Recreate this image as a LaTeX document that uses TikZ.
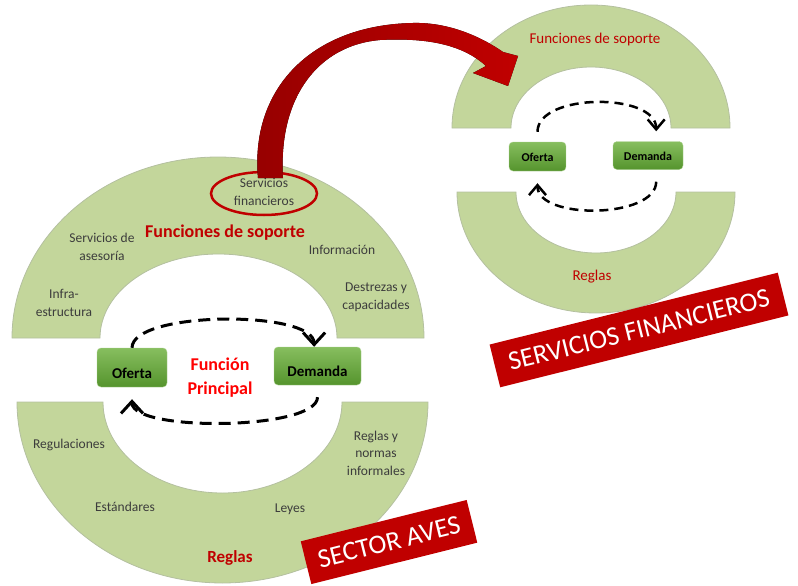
\documentclass[tikz,border=0pt]{standalone}
\usepackage{fontspec}
\setmainfont{Carlito}
\usetikzlibrary{arrows.meta, shapes.geometric}

\definecolor{verdearco}{RGB}{195,214,155}
\definecolor{bordearco}{RGB}{180,192,160}
\definecolor{rojo}{RGB}{192,0,0}
\definecolor{rojovivo}{RGB}{255,0,0}
\definecolor{rojooscuro}{RGB}{150,0,0}
\definecolor{verdearriba}{RGB}{135,190,95}
\definecolor{verdeabajo}{RGB}{85,148,45}
\definecolor{gris}{RGB}{60,60,60}

\begin{document}
\begin{tikzpicture}[
        x=1pt, y=-1pt, % координаты как в пикселях
        arco/.style = {fill=verdearco, draw=bordearco, line width=0.8pt},
        caja/.style = {rounded corners=4pt, top color=verdearriba, bottom color=verdeabajo,
                draw=verdearriba!70!white, inner sep=0pt, font=\bfseries\fontsize{15}{18}\selectfont,
                text height=21pt, text depth=0pt},
        cajita/.style = {caja, font=\bfseries\fontsize{12}{14}\selectfont, text height=9pt},
        etiqueta/.style = {text=gris, align=center, font=\fontsize{13.5}{18}\selectfont},
        cinta/.style = {fill=rojo, text=white, rotate=14, inner sep=0pt, minimum height=44pt,
                font=\fontsize{27}{30}\selectfont},
        ciclo/.style = {draw=black, line width=3pt, dash pattern=on 12pt off 7pt,
                -{Straight Barb[length=12pt, width=22pt, line width=3pt]}},
        ciclito/.style = {ciclo, line width=2.5pt, dash pattern=on 9pt off 6pt,
                -{Straight Barb[length=10pt, width=17pt, line width=2.5pt]}},
    ]
    \useasboundingbox (0,0) rectangle (798,586);

    % арки слева
    \path[arco] (12,338) arc[start angle=180, end angle=0, x radius=206pt, y radius=181pt]
        -- (337,338) arc[start angle=0, end angle=180, x radius=118.5pt, y radius=84pt] -- cycle;
    \path[arco] (17,402) arc[start angle=180, end angle=360, x radius=205.5pt, y radius=181pt]
        -- (342,402) arc[start angle=0, end angle=-180, x radius=119.5pt, y radius=91pt] -- cycle;
    % арки справа
    \path[arco] (452,128) arc[start angle=180, end angle=0, x radius=139pt, y radius=123pt]
        -- (671,128) arc[start angle=0, end angle=180, x radius=80pt, y radius=61pt] -- cycle;
    \path[arco] (457,192) arc[start angle=180, end angle=360, x radius=139pt, y radius=121pt]
        -- (676,192) arc[start angle=0, end angle=-180, x radius=80pt, y radius=61pt] -- cycle;

    % подписи слева
    \node[etiqueta] (financieros) at (264,192) {Servicios\\financieros};
    \node[ellipse, draw=rojo, line width=2.5pt, minimum width=106pt, minimum height=43pt] (marco) at (264,193.5) {};
    \node[text=rojo, font=\bfseries\fontsize{18}{22}\selectfont] (soporteL) at (225,233) {Funciones de soporte};
    \node[etiqueta] (asesoria) at (102,247) {Servicios de\\asesoría};
    \node[etiqueta] (informacion) at (342,250) {Información};
    \node[etiqueta] (infra) at (64,303) {Infra-\\estructura};
    \node[etiqueta] (destrezas) at (376,297) {Destrezas y\\capacidades};
    \node[text=rojovivo, align=center, font=\bfseries\fontsize{18}{24}\selectfont] (principal) at (220,378) {Función\\Principal};
    \node[etiqueta] (regulaciones) at (69,445) {Regulaciones};
    \node[etiqueta, font=\fontsize{13.5}{17.5}\selectfont] (informales) at (376,453) {Reglas y\\normas\\informales};
    \node[etiqueta] (estandares) at (125,507) {Estándares};
    \node[etiqueta] (leyes) at (290,509) {Leyes};
    \node[text=rojo, font=\bfseries\fontsize{17}{20}\selectfont] (reglasL) at (230,558) {Reglas};
    % подписи справа
    \node[text=rojo, font=\fontsize{15}{18}\selectfont] (soporteR) at (595,40) {Funciones de soporte};
    \node[text=rojo, font=\fontsize{15}{18}\selectfont] (reglasR) at (592,277) {Reglas};

    % блоки
    \node[caja, minimum width=70pt, minimum height=39pt] (ofertaL) at (132,367.5) {Oferta};
    \node[caja, minimum width=87pt, minimum height=38pt] (demandaL) at (317.5,366) {Demanda};
    \node[cajita, minimum width=57pt, minimum height=29pt] (ofertaR) at (537.5,156.5) {Oferta};
    \node[cajita, minimum width=70pt, minimum height=28pt] (demandaR) at (648,155.5) {Demanda};

    % циклы
    \draw[ciclo] (ofertaL.north) .. controls +(0,-37) and +(0,-37) .. (demandaL.100);
    \draw[ciclo, shorten <=12pt, shorten >=12pt] (demandaL.south) .. controls +(0,45) and +(0,45) .. (ofertaL.south);
    \draw[ciclito, shorten <=10pt, shorten >=10pt] (ofertaR.north) .. controls +(0,-49) and +(0,-49) .. (demandaR.60);
    \draw[ciclito, shorten <=12pt, shorten >=12pt] (demandaR.300) .. controls +(0,49) and +(0,49) .. (ofertaR.south);

    % большая стрелка
    \fill[left color=rojooscuro, right color=rojo] (258,178) .. controls (250,90) and (310,25) .. (413,23)
        .. controls (450,22) and (483,38) .. (503,52) -- (518,56) -- (508,86) -- (473,73) -- (486,66)
        .. controls (460,42) and (420,38) .. (380,40) .. controls (320,45) and (278,95) .. (283,178) -- cycle;

    % ленты
    \node[cinta, minimum width=171pt] (aves) at (389,542) {SECTOR AVES};
    \node[cinta, minimum width=297pt] (servicios) at (639,330) {SERVICIOS FINANCIEROS};
\end{tikzpicture}
\end{document}
